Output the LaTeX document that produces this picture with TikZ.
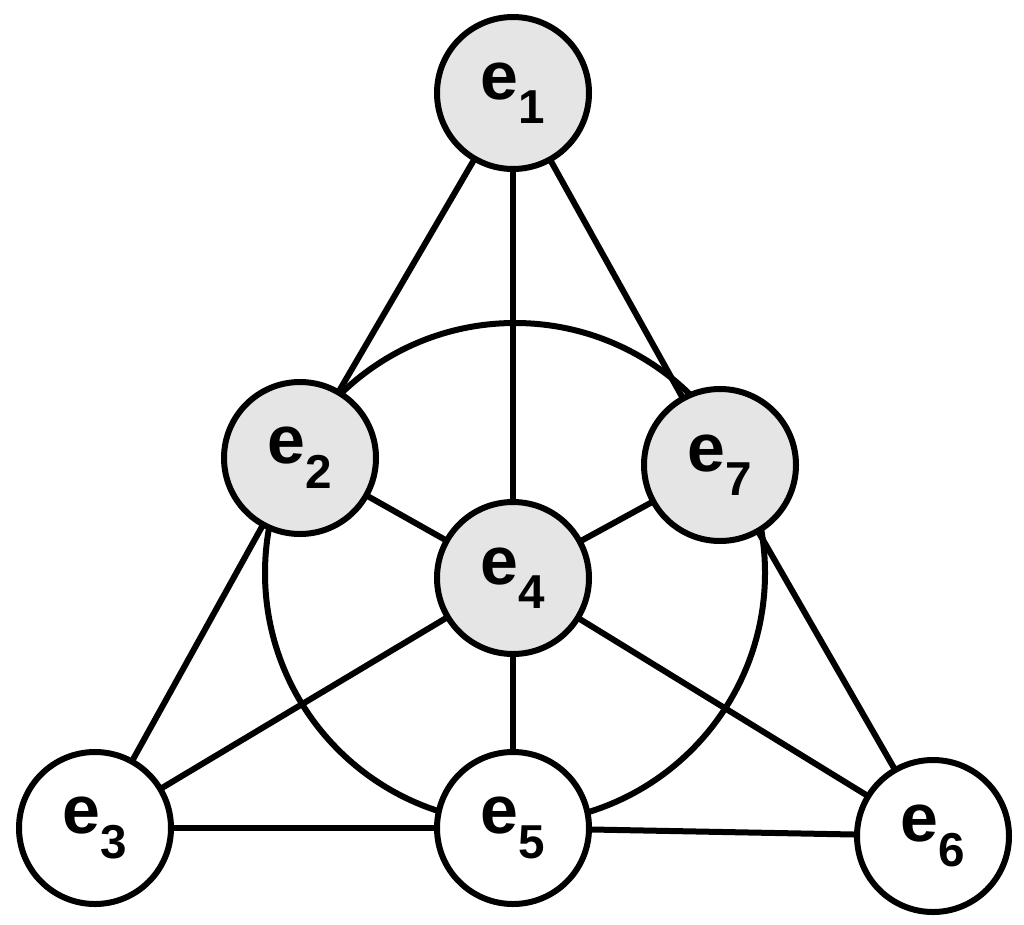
\documentclass[tikz,border=0pt]{standalone}
\usepackage{fontspec}
\setmainfont{Liberation Sans}
\begin{document}
\begin{tikzpicture}[x=1pt,y=-1pt,
  pt/.style={circle,draw,line width=6pt,minimum size=152pt,inner sep=0pt,outer sep=0pt,font=\fontsize{68}{68}\bfseries\selectfont},
  gr/.style={pt,fill=black!10},
  wh/.style={pt,fill=white},
  ln/.style={line width=6pt}]
\useasboundingbox (0,0) rectangle (1024,924);
\coordinate (c) at (515,573);
\draw[ln] (c) circle (250);
\node[gr] (e1) at (513,93) {e$_{\mathbf 1}$};
\node[gr] (e2) at (300,458) {e$_{\mathbf 2}$};
\node[gr] (e7) at (720,465) {e$_{\mathbf 7}$};
\node[gr] (e4) at (513,578) {e$_{\mathbf 4}$};
\node[wh] (e3) at (95,828) {e$_{\mathbf 3}$};
\node[wh] (e5) at (513,828) {e$_{\mathbf 5}$};
\node[wh] (e6) at (933,836) {e$_{\mathbf 6}$};
\foreach \a/\b in {e1/e2,e1/e4,e1/e7,e2/e4,e4/e7,e2/e3,e7/e6,e3/e4,e4/e6,e4/e5,e3/e5,e5/e6}
  \draw[ln] (\a) -- (\b);
\end{tikzpicture}
\end{document}
